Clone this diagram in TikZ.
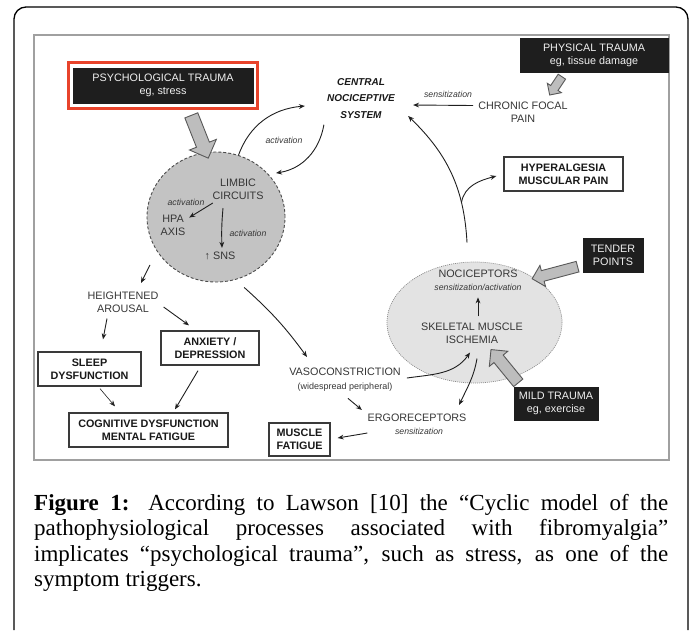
\documentclass[tikz,border=0pt]{standalone}
\usepackage{fontspec}
\setmainfont{Liberation Serif}
\newfontfamily\lsans{Liberation Sans}
\usetikzlibrary{arrows.meta,shapes.geometric,shapes.arrows}
\definecolor{txtgray}{HTML}{363636}
\definecolor{boxfill}{HTML}{1E1E1E}
\definecolor{boxline}{HTML}{3A3A3A}
\definecolor{blockgray}{HTML}{BDBDBD}
\definecolor{limbicfill}{HTML}{C3C3C3}
\definecolor{muscfill}{HTML}{E3E3E3}
\definecolor{redframe}{HTML}{E8432B}
\definecolor{panelgray}{HTML}{A0A0A0}
\begin{document}
\begin{tikzpicture}[x=1pt,y=-1pt,
  lbl/.style={font=\lsans\fontsize{10.8}{13}\selectfont,text=txtgray,align=center,inner sep=0pt},
  blbl/.style={font=\lsans\bfseries\fontsize{10.8}{13}\selectfont,text=black!90,align=center,inner sep=0pt},
  italbl/.style={font=\lsans\itshape\fontsize{8.7}{10}\selectfont,text=txtgray,inner sep=0pt},
  wbox/.style={blbl,draw=boxline,line width=1.3pt,fill=white},
  kbox/.style={lbl,text=white!94!black,fill=boxfill,draw=boxfill},
  conn/.style={draw=black!88,line width=0.9pt,-{Stealth[length=6pt,width=4.8pt]}},
  barrow/.style={single arrow,draw=black!65,fill=blockgray,line width=0.9pt,inner xsep=0pt,single arrow tip angle=90}
]
\useasboundingbox (0,0) rectangle (692,630);
% frames
\draw[line width=1.3pt,rounded corners=12pt] (14,630) -- (14,7) -- (688,7) -- (688,630);
\draw[panelgray,line width=1.3pt] (34,35) rectangle (669,460);

% ellipses
\node[ellipse,draw=black!70,dash pattern=on 3pt off 2pt,line width=0.9pt,fill=limbicfill,
      minimum width=138pt,minimum height=130pt,inner sep=0pt] (limbic) at (216,217) {};
\node[ellipse,draw=black!45,dash pattern=on 1pt off 1pt,line width=0.7pt,fill=muscfill,
      minimum width=175pt,minimum height=121pt,inner sep=0pt] (muscell) at (474.5,322.5) {};

% block arrows
\node[barrow,inner ysep=6.5pt,minimum height=46pt,minimum width=28pt,single arrow head extend=7.5pt,rotate=-68.4] (psycharrow) at (198.5,133.5) {};
\node[barrow,inner ysep=4pt,minimum height=22pt,minimum width=16pt,single arrow head extend=4pt,rotate=-123.7] (physarrow) at (557,84) {};
\node[barrow,inner ysep=5pt,minimum height=47pt,minimum width=21pt,single arrow head extend=5.5pt,rotate=-165.1] (tenderarrow) at (557.5,272) {};
\node[barrow,inner ysep=5.5pt,minimum height=43pt,minimum width=23pt,single arrow head extend=6pt,rotate=129.3] (mildarrow) at (506.5,368.5) {};

% black boxes
\node[draw=redframe,line width=3pt,fill=white,minimum width=189pt,minimum height=46pt,inner sep=0pt] (psychframe) at (163,85.5) {};
\node[kbox,minimum width=180pt,minimum height=35pt] (psych) at (163,85.5) {PSYCHOLOGICAL TRAUMA\\eg, stress};
\node[kbox,minimum width=148pt,minimum height=34pt] (phys) at (594,55) {PHYSICAL TRAUMA\\eg, tissue damage};
\node[kbox,minimum width=60pt,minimum height=34pt] (tender) at (613,255) {TENDER\\POINTS};
\node[kbox,minimum width=84pt,minimum height=33pt] (mild) at (556,403.5) {MILD TRAUMA\\eg, exercise};

% white boxes
\node[wbox,minimum width=119pt,minimum height=34pt] (hyper) at (563.5,174) {HYPERALGESIA\\MUSCULAR PAIN};
\node[wbox,minimum width=98pt,minimum height=34pt] (anxiety) at (210,348) {ANXIETY /\\DEPRESSION};
\node[wbox,minimum width=103pt,minimum height=34pt] (sleep) at (89.5,369) {SLEEP\\DYSFUNCTION};
\node[wbox,minimum width=159pt,minimum height=34pt] (cog) at (148.5,430) {COGNITIVE DYSFUNCTION\\MENTAL FATIGUE};
\node[wbox,minimum width=61pt,minimum height=33pt] (muscle) at (299.5,439.5) {MUSCLE\\FATIGUE};

% text labels
\node[blbl,font=\lsans\bfseries\itshape\fontsize{10}{16.5}\selectfont] (central) at (361,98.5) {CENTRAL\\NOCICEPTIVE\\SYSTEM};
\node[lbl] (chronic) at (523,112.5) {CHRONIC FOCAL\\PAIN};
\node[italbl] (sens1) at (448,94) {sensitization};
\node[italbl] (act3) at (284,140) {activation};
\node[lbl] (limbictxt) at (238,189.5) {LIMBIC\\CIRCUITS};
\node[italbl] (act1) at (186,202) {activation};
\node[lbl] (hpa) at (173,225.5) {HPA\\AXIS};
\node[italbl] (act2) at (248,233) {activation};
\node[lbl] (sns) at (220,256) {↑ SNS};
\node[lbl] (heightened) at (123,302.5) {HEIGHTENED\\AROUSAL};
\node[lbl] (vaso) at (345,372) {VASOCONSTRICTION};
\node[lbl,font=\lsans\fontsize{9}{10}\selectfont] (vasosub) at (345,387) {(widespread peripheral)};
\node[lbl] (ergo) at (417,418) {ERGORECEPTORS};
\node[italbl] (ergosub) at (419,431) {sensitization};
\node[lbl] (noci) at (478,274) {NOCICEPTORS};
\node[italbl] (nocisub) at (478,287) {sensitization/activation};
\node[lbl] (skel) at (472,333) {SKELETAL MUSCLE\\ISCHEMIA};

% connectors
\draw[conn] (limbic.70) to[out=70,in=185] ([shift={(-22,7.5)}]central.west);
\draw[conn] ([shift={(-3,6)}]central.south west) to[out=-100,in=9] ([shift={(5,-4)}]limbic.36);
\draw[conn] ([shift={(-5,-7)}]chronic.west) -- ([shift={(18,6.5)}]central.east);
\draw[conn] ([shift={(-7.5,-19)}]muscell.north) to[out=93,in=-44] coordinate[pos=0.27] (branch) ([shift={(13,17.5)}]central.east);
\draw[conn] (branch) to[out=80,in=195] ([shift={(-7,2)}]hyper.west);
\draw[conn] ([shift={(6,-6)}]skel.north) -- ([shift={(0,7)}]nocisub.south);
\draw[conn] ([shift={(6,6)}]vaso.east) to[out=8,in=-125] ([shift={(-2,9)}]skel.south);
\draw[conn] ([shift={(5,15)}]skel.south) to[out=-100,in=65] ([shift={(-7.5,-9)}]ergo.north east);
\draw[conn] ([shift={(3,7)}]vasosub.south) -- ([shift={(-5.5,-4)}]ergo.north west);
\draw[conn] ([shift={(0,15)}]ergo.west) -- ([shift={(7,-1.5)}]muscle.east);
\draw[conn] ([shift={(-11,8)}]limbic.216) -- ([shift={(18,-9)}]heightened.north);
\draw[conn] ([shift={(-16,5.5)}]heightened.south) -- ([shift={(13.5,-12)}]sleep.north);
\draw[conn] ([shift={(5,4.5)}]heightened.east) -- ([shift={(-21,-5)}]anxiety.north);
\draw[conn,line width=0.6pt] ([shift={(10.5,2)}]sleep.south) -- ([shift={(-33.5,-6)}]cog.north);
\draw[conn] ([shift={(-12,5)}]anxiety.south) -- ([shift={(26.5,-3)}]cog.north);
\draw[conn] ([shift={(3.5,9.3)}]limbic.-68) to[bend left=6] ([shift={(-38,-11)}]vaso.north);
\draw[conn] ([shift={(0.5,3)}]limbictxt.south west) -- ([shift={(3.7,2.5)}]hpa.north east);
\draw[conn] ([shift={(-15,8)}]limbictxt.south) to[out=-95,in=92] ([shift={(2,-4)}]sns.north);

% caption
\node[anchor=north west,inner sep=0pt,text width=634pt,align=justify,
      font=\fontsize{23}{25.5}\selectfont] (caption) at (34,494)
  {\textbf{Figure 1:} According to Lawson [10] the “Cyclic model of the\linebreak
   pathophysiological processes associated with fibromyalgia”\linebreak
   implicates “psychological trauma”, such as stress, as one of the\linebreak
   symptom triggers.};
\end{tikzpicture}
\end{document}
